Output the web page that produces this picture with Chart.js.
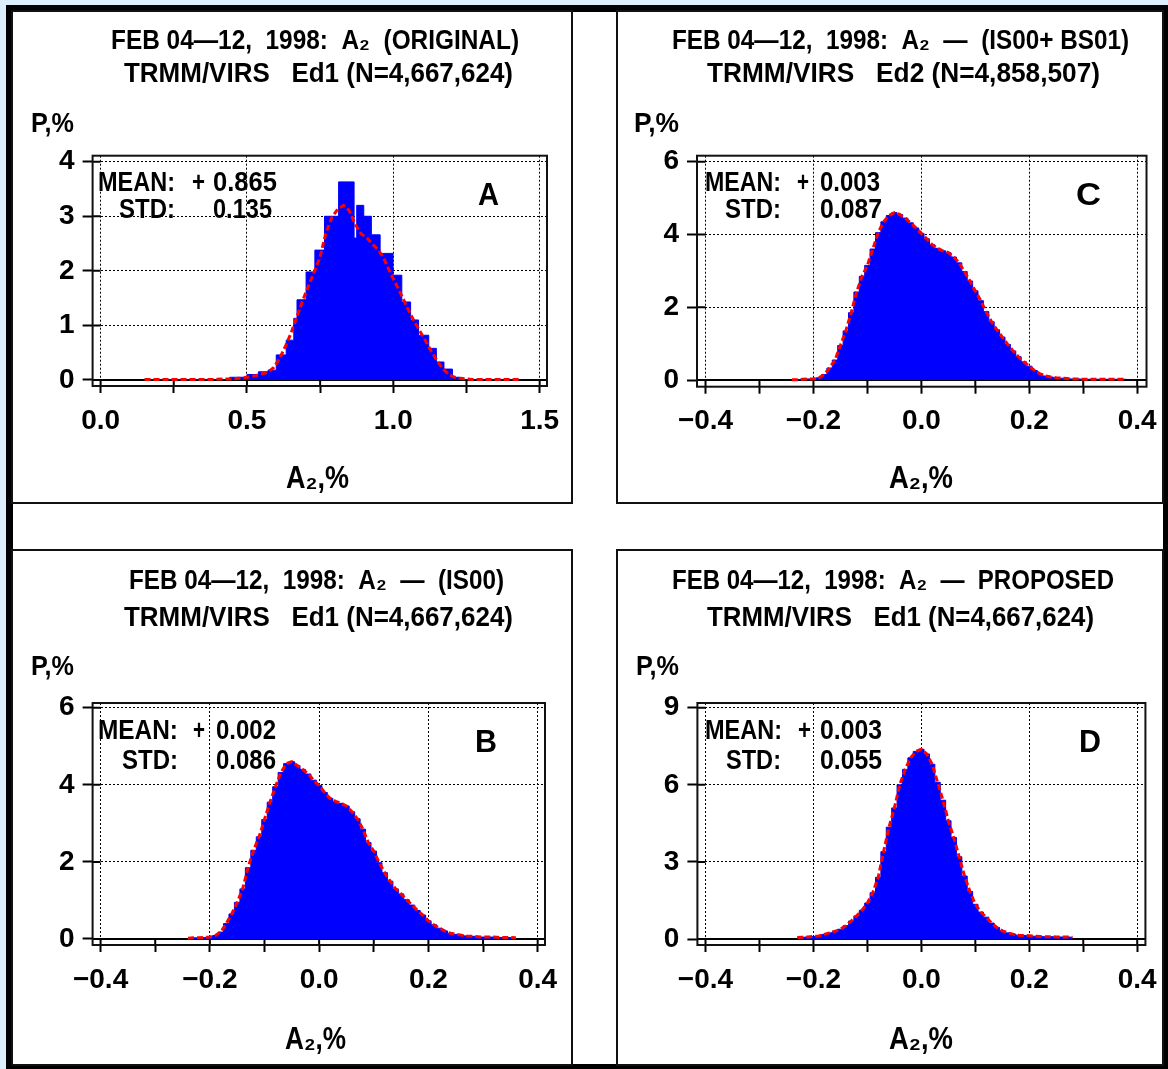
<!DOCTYPE html>
<html><head><meta charset="utf-8">
<script src="https://cdn.jsdelivr.net/npm/chart.js@4.4.1/dist/chart.umd.min.js"></script>
<style>
html,body{margin:0;padding:0;}
body{width:1168px;height:1069px;position:relative;overflow:hidden;background:#dcefff;}
#frame{position:absolute;left:6px;top:5px;width:1162px;height:1064px;background:#000;}
#inner{position:absolute;left:13px;top:12px;width:1150px;height:1052px;background:#fff;}
.panel{position:absolute;box-sizing:border-box;border:2px solid #111;}
canvas{position:absolute;left:0;top:0;}
</style></head><body>
<div id="frame"></div><div id="inner"></div>
<div class="panel" style="left:11px;top:10px;width:562px;height:494px"></div>
<div class="panel" style="left:616px;top:10px;width:548px;height:494px"></div>
<div class="panel" style="left:11px;top:549px;width:562px;height:517px"></div>
<div class="panel" style="left:616px;top:549px;width:548px;height:517px"></div>
<canvas id="cA" width="1168" height="1069"></canvas>
<canvas id="cC" width="1168" height="1069"></canvas>
<canvas id="cB" width="1168" height="1069"></canvas>
<canvas id="cD" width="1168" height="1069"></canvas>
<script>
// ---------------- DATA ----------------
// Panel A: coarse histogram (bin edges + heights) and fine red curve
const edgesA = [0.153,0.441,0.500,0.539,0.572,0.600,0.634,0.660,0.671,0.702,0.732,0.765,0.813,0.866,0.875,0.899,0.925,0.955,0.999,1.029,1.059,1.086,1.121,1.147,1.173,1.202,1.226,1.435];
const barsA  = [0.01,0.05,0.10,0.15,0.18,0.46,0.73,1.13,1.47,1.98,2.38,3.00,3.63,2.60,3.20,3.00,2.66,2.32,1.92,1.43,1.10,0.82,0.58,0.33,0.20,0.05,0.01];
const xRedA  = [0.15,0.19,0.23,0.27,0.31,0.35,0.39,0.43,0.45,0.47,0.49,0.51,0.53,0.55,0.57,0.59,0.61,0.63,0.65,0.67,0.69,0.71,0.73,0.75,0.77,0.79,0.81,0.83,0.85,0.87,0.89,0.91,0.93,0.95,0.97,0.99,1.01,1.03,1.05,1.07,1.09,1.11,1.13,1.15,1.17,1.19,1.21,1.23,1.27,1.31,1.35,1.39,1.43];
const redA   = [0.01,0.01,0.01,0.01,0.01,0.01,0.01,0.02,0.02,0.03,0.04,0.06,0.08,0.11,0.14,0.22,0.38,0.60,0.85,1.15,1.45,1.72,1.98,2.26,2.70,2.98,3.13,3.20,3.10,2.85,2.68,2.60,2.48,2.38,2.20,1.96,1.75,1.53,1.30,1.09,0.90,0.72,0.52,0.35,0.20,0.10,0.05,0.03,0.01,0.01,0.01,0.01,0.01];

// Panel C
const xC = [-0.24,-0.23,-0.22,-0.21,-0.20,-0.19,-0.18,-0.17,-0.16,-0.15,-0.14,-0.13,-0.12,-0.11,-0.10,-0.09,-0.08,-0.07,-0.06,-0.05,-0.04,-0.03,-0.02,-0.01,0.00,0.01,0.02,0.03,0.04,0.05,0.06,0.07,0.08,0.09,0.10,0.11,0.12,0.13,0.14,0.15,0.16,0.17,0.18,0.19,0.20,0.21,0.22,0.23,0.24,0.25,0.26,0.27,0.28,0.29,0.30,0.31,0.32,0.33,0.34,0.35,0.36,0.37,0.38];
const pC = [0.01,0.01,0.02,0.03,0.03,0.06,0.15,0.33,0.55,0.95,1.35,1.85,2.42,2.85,3.15,3.60,4.05,4.35,4.52,4.60,4.55,4.45,4.32,4.18,4.03,3.88,3.72,3.62,3.55,3.50,3.38,3.22,2.98,2.72,2.45,2.18,1.88,1.60,1.38,1.18,0.98,0.80,0.64,0.50,0.38,0.26,0.17,0.11,0.08,0.06,0.05,0.04,0.03,0.03,0.02,0.02,0.02,0.02,0.02,0.02,0.02,0.02,0.02];

// Panel B
const xB = [-0.24,-0.23,-0.22,-0.21,-0.20,-0.19,-0.18,-0.17,-0.16,-0.15,-0.14,-0.13,-0.12,-0.11,-0.10,-0.09,-0.08,-0.07,-0.06,-0.05,-0.04,-0.03,-0.02,-0.01,0.00,0.01,0.02,0.03,0.04,0.05,0.06,0.07,0.08,0.09,0.10,0.11,0.12,0.13,0.14,0.15,0.16,0.17,0.18,0.19,0.20,0.21,0.22,0.23,0.24,0.25,0.26,0.27,0.28,0.29,0.30,0.31,0.32,0.33,0.34,0.35,0.36];
const pB = [0.02,0.03,0.03,0.04,0.05,0.09,0.18,0.40,0.65,0.95,1.30,1.85,2.30,2.65,3.10,3.55,3.95,4.32,4.55,4.60,4.50,4.40,4.28,4.12,3.98,3.80,3.65,3.57,3.52,3.45,3.30,3.12,2.85,2.50,2.28,1.98,1.72,1.50,1.30,1.17,1.02,0.88,0.74,0.62,0.47,0.37,0.28,0.21,0.15,0.12,0.10,0.08,0.07,0.06,0.05,0.05,0.05,0.04,0.04,0.04,0.03];

// Panel D
const xD = [-0.23,-0.22,-0.21,-0.20,-0.19,-0.18,-0.17,-0.16,-0.15,-0.14,-0.13,-0.12,-0.11,-0.10,-0.09,-0.08,-0.07,-0.06,-0.05,-0.04,-0.03,-0.02,-0.01,0.00,0.01,0.02,0.03,0.04,0.05,0.06,0.07,0.08,0.09,0.10,0.11,0.12,0.13,0.14,0.15,0.16,0.17,0.18,0.19,0.20,0.21,0.22,0.23,0.24,0.25,0.26,0.27,0.28];
const pD = [0.06,0.07,0.08,0.10,0.12,0.18,0.24,0.30,0.38,0.52,0.70,0.90,1.12,1.40,1.80,2.40,3.40,4.35,5.10,6.00,6.60,7.05,7.30,7.38,7.20,6.80,6.10,5.40,4.60,3.95,3.20,2.45,1.85,1.35,1.05,0.85,0.62,0.45,0.32,0.24,0.19,0.15,0.14,0.13,0.11,0.10,0.09,0.09,0.08,0.08,0.08,0.07];

// Tick values and labels
const xTicksA = [0, 0.25, 0.5, 0.75, 1.0, 1.25, 1.5];
const xLabelsA = ['0.0', '', '0.5', '', '1.0', '', '1.5'];
const yTicksA = [0, 1, 2, 3, 4];
const yLabelsA = ['0', '1', '2', '3', '4'];
const xTicksBCD = [-0.4, -0.3, -0.2, -0.1, 0, 0.1, 0.2, 0.3, 0.4];
const xLabelsBCD = ['\u22120.4', '', '\u22120.2', '', '0.0', '', '0.2', '', '0.4'];
const yTicksBC = [0, 2, 4, 6];
const yLabelsBC = ['0', '2', '4', '6'];
const yTicksD = [0, 3, 6, 9];
const yLabelsD = ['0', '3', '6', '9'];

// Text content
const titlesA = ['FEB 04\u201412,  1998:  A\u2082  (ORIGINAL)', 'TRMM/VIRS   Ed1 (N=4,667,624)'];
const titlesC = ['FEB 04\u201412,  1998:  A\u2082  \u2014  (IS00+ BS01)', 'TRMM/VIRS   Ed2 (N=4,858,507)'];
const titlesB = ['FEB 04\u201412,  1998:  A\u2082  \u2014  (IS00)', 'TRMM/VIRS   Ed1 (N=4,667,624)'];
const titlesD = ['FEB 04\u201412,  1998:  A\u2082  \u2014  PROPOSED', 'TRMM/VIRS   Ed1 (N=4,667,624)'];
const statsA = ['+', '0.865', '0.135'];
const statsC = ['+', '0.003', '0.087'];
const statsB = ['+', '0.002', '0.086'];
const statsD = ['+', '0.003', '0.055'];

// ---------------- RENDERING ----------------
const FONT = '"Liberation Sans", Arimo, Arial, Helvetica, sans-serif';
const PAGE_W = 1168, PAGE_H = 1069;

function fitText(ctx, str, x0, x1, base, size) {
  ctx.save();
  ctx.font = 'bold ' + size + 'px ' + FONT;
  ctx.textAlign = 'left';
  ctx.textBaseline = 'alphabetic';
  ctx.fillStyle = '#000';
  const w = ctx.measureText(str).width;
  const sx = (x1 - x0) / w;
  ctx.translate(x0, base);
  ctx.scale(sx, 1);
  ctx.fillText(str, 0, 0);
  ctx.restore();
}

function panelPlugin(p) {
  return {
    id: 'panel' + p.name,
    beforeDatasetsDraw(chart) {
      const ctx = chart.ctx, a = chart.chartArea, xs = chart.scales.x, ys = chart.scales.y;
      const y0 = ys.getPixelForValue(0);
      ctx.save();
      ctx.strokeStyle = '#000';
      ctx.lineWidth = 2;
      ctx.beginPath();
      ctx.moveTo(a.left, y0); ctx.lineTo(a.right, y0);
      const xFirst = xs.getPixelForValue(p.xTicks[0]);
      p.yTicks.forEach(v => { const py = ys.getPixelForValue(v); ctx.moveTo(a.left, py); ctx.lineTo(xFirst, py); });
      p.xTicks.forEach(v => { const px = xs.getPixelForValue(v); ctx.moveTo(px, a.bottom); ctx.lineTo(px, y0); });
      ctx.stroke();
      ctx.restore();
    },
    afterDraw(chart) {
      const ctx = chart.ctx, a = chart.chartArea;
      ctx.save();
      ctx.strokeStyle = '#111';
      ctx.lineWidth = 2;
      ctx.strokeRect(a.left, a.top, a.right - a.left, a.bottom - a.top);
      ctx.restore();
      p.texts.forEach(t => fitText(ctx, t.s, t.x0, t.x1, t.y, t.size || 28));
    }
  };
}

function makePanel(p) {
  const yW = 60, xH = 60;
  const isMajorX = i => p.xLabels[i] !== '';
  new Chart(document.getElementById(p.id), {
    type: 'line',
    data: { datasets: p.datasets },
    options: {
      responsive: false,
      animation: false,
      devicePixelRatio: 1,
      layout: { padding: { left: p.area.left - yW, right: PAGE_W - p.area.right, top: p.area.top, bottom: PAGE_H - p.area.bottom - xH } },
      plugins: { legend: { display: false }, tooltip: { enabled: false }, title: { display: false } },
      elements: { point: { radius: 0 }, line: { tension: 0 } },
      scales: {
        x: {
          type: 'linear', min: p.xMin, max: p.xMax,
          afterFit: s => { s.height = xH; },
          afterBuildTicks: s => { s.ticks = p.xTicks.map(v => ({ value: v })); },
          grid: {
            color: c => (c.index !== undefined && isMajorX(c.index)) ? '#000' : 'rgba(0,0,0,0)',
            tickColor: '#000', lineWidth: 1, tickWidth: 2, tickLength: 7
          },
          border: { display: false, dash: [2, 2] },
          ticks: {
            autoSkip: false, maxRotation: 0, minRotation: 0, padding: 11, color: '#000',
            font: { family: FONT, weight: 'bold', size: 28 },
            callback: (v, i) => p.xLabels[i]
          }
        },
        y: {
          type: 'linear', min: p.yMin, max: p.yMax,
          afterFit: s => { s.width = yW; },
          afterBuildTicks: s => { s.ticks = p.yTicks.map(v => ({ value: v })); },
          grid: { color: '#000', tickColor: '#000', lineWidth: 1, tickWidth: 2, tickLength: 10 },
          border: { display: false, dash: [2, 2] },
          ticks: {
            autoSkip: false, padding: 8, color: '#000',
            font: { family: FONT, weight: 'bold', size: 28 },
            callback: (v, i) => p.yLabels[i]
          }
        }
      }
    },
    plugins: [panelPlugin(p)]
  });
}

function zip(xs, ys) { return xs.map((x, i) => ({ x: x, y: ys[i] })); }
function redSet(data) {
  return { data: data, borderColor: '#ff0000', borderWidth: 3, borderDash: [6, 3], fill: false, pointRadius: 0, order: 0 };
}
function blueSet(data, stepped) {
  return { data: data, stepped: stepped, fill: 'origin', backgroundColor: '#0000ff', borderColor: '#0000ff', borderWidth: 1, pointRadius: 0, order: 1 };
}
function statTexts(stats, t) {
  return [
    { s: 'MEAN:', x0: t.mx0, x1: t.mx1, y: t.my },
    { s: stats[0], x0: t.px0, x1: t.px1, y: t.my },
    { s: stats[1], x0: t.vx0, x1: t.vx1, y: t.my },
    { s: 'STD:', x0: t.sx0, x1: t.sx1, y: t.sy },
    { s: stats[2], x0: t.vx0, x1: t.wx1, y: t.sy }
  ];
}

// Panel A
makePanel({
  id: 'cA', name: 'A',
  area: { left: 92.6, right: 547, top: 155.7, bottom: 386 },
  xMin: -0.0273, xMax: 1.525, yMin: -0.11, yMax: 4.11,
  xTicks: xTicksA, xLabels: xLabelsA, yTicks: yTicksA, yLabels: yLabelsA,
  datasets: [
    redSet(zip(xRedA, redA)),
    blueSet(edgesA.map((x, i) => ({ x: x, y: i < barsA.length ? barsA[i] : 0 })), 'before')
  ],
  texts: [
    { s: titlesA[0], x0: 111, x1: 519, y: 48.5 },
    { s: titlesA[1], x0: 124, x1: 513, y: 81.5 },
    { s: 'P,%', x0: 31, x1: 74, y: 131.5 },
    { s: 'A', x0: 478, x1: 499, y: 205, size: 32 },
    { s: 'A\u2082,%', x0: 286, x1: 349, y: 488, size: 32 }
  ].concat(statTexts(statsA, { mx0: 98, mx1: 175, my: 190.5, px0: 192, px1: 205, vx0: 213, vx1: 277, sx0: 119, sx1: 175, sy: 218, wx1: 272 }))
});

// Panel C
makePanel({
  id: 'cC', name: 'C',
  area: { left: 697, right: 1150.7, top: 155.7, bottom: 386.7 },
  xMin: -0.4158, xMax: 0.4173, yMin: -0.184, yMax: 6.165,
  xTicks: xTicksBCD, xLabels: xLabelsBCD, yTicks: yTicksBC, yLabels: yLabelsBC,
  datasets: [ redSet(zip(xC, pC)), blueSet(zip(xC, pC), 'middle') ],
  texts: [
    { s: titlesC[0], x0: 672, x1: 1129, y: 48.5 },
    { s: titlesC[1], x0: 707, x1: 1100, y: 81.5 },
    { s: 'P,%', x0: 634, x1: 679, y: 131.5 },
    { s: 'C', x0: 1076, x1: 1101, y: 205, size: 32 },
    { s: 'A\u2082,%', x0: 889, x1: 953, y: 488, size: 32 }
  ].concat(statTexts(statsC, { mx0: 705, mx1: 781, my: 190.5, px0: 797, px1: 809, vx0: 820, vx1: 880, sx0: 725, sx1: 781, sy: 218, wx1: 882 }))
});

// Panel B
makePanel({
  id: 'cB', name: 'B',
  area: { left: 92.6, right: 545, top: 703, bottom: 945 },
  xMin: -0.4146, xMax: 0.4134, yMin: -0.156, yMax: 6.122,
  xTicks: xTicksBCD, xLabels: xLabelsBCD, yTicks: yTicksBC, yLabels: yLabelsBC,
  datasets: [ redSet(zip(xB, pB)), blueSet(zip(xB, pB), 'middle') ],
  texts: [
    { s: titlesB[0], x0: 129, x1: 504, y: 589 },
    { s: titlesB[1], x0: 124, x1: 513, y: 626 },
    { s: 'P,%', x0: 31, x1: 74, y: 675 },
    { s: 'B', x0: 475, x1: 497, y: 752, size: 32 },
    { s: 'A\u2082,%', x0: 285, x1: 346, y: 1049, size: 32 }
  ].concat(statTexts(statsB, { mx0: 98, mx1: 178, my: 739, px0: 193, px1: 205, vx0: 216, vx1: 276, sx0: 122, sx1: 178, sy: 769, wx1: 276 }))
});

// Panel D
makePanel({
  id: 'cD', name: 'D',
  area: { left: 697.4, right: 1150.7, top: 703, bottom: 945 },
  xMin: -0.415, xMax: 0.4152, yMin: -0.233, yMax: 9.183,
  xTicks: xTicksBCD, xLabels: xLabelsBCD, yTicks: yTicksD, yLabels: yLabelsD,
  datasets: [ redSet(zip(xD, pD)), blueSet(zip(xD, pD), 'middle') ],
  texts: [
    { s: titlesD[0], x0: 672, x1: 1114, y: 589 },
    { s: titlesD[1], x0: 707, x1: 1094, y: 626 },
    { s: 'P,%', x0: 636, x1: 679, y: 675 },
    { s: 'D', x0: 1079, x1: 1101, y: 752, size: 32 },
    { s: 'A\u2082,%', x0: 889, x1: 953, y: 1049, size: 32 }
  ].concat(statTexts(statsD, { mx0: 705, mx1: 782, my: 739, px0: 798, px1: 811, vx0: 820, vx1: 882, sx0: 726, sx1: 781, sy: 769, wx1: 882 }))
});
</script>
</body></html>
